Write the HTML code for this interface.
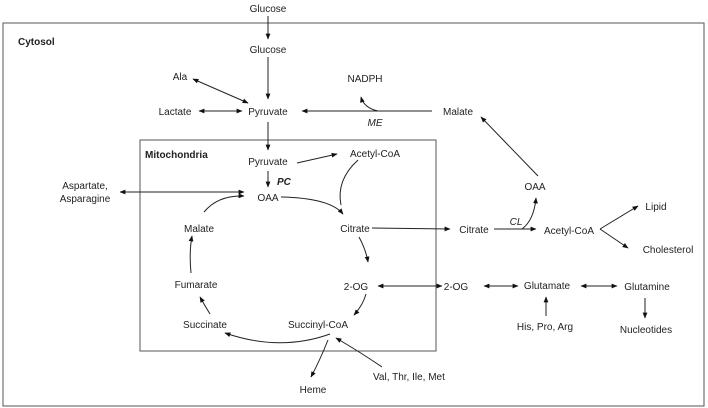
<!DOCTYPE html>
<html><head><meta charset="utf-8"><style>
html,body{margin:0;padding:0;background:#fff}
svg{display:block}
text{font-family:"Liberation Sans",Arial,sans-serif;font-size:10px;fill:#222;text-anchor:middle}
.b{font-weight:bold;text-anchor:start}
.i{font-style:italic}
</style></head><body>
<svg width="708" height="408" viewBox="0 0 708 408" xmlns="http://www.w3.org/2000/svg">
<defs>
<marker id="a" viewBox="0 0 10 10" refX="9" refY="5" markerWidth="6" markerHeight="6" orient="auto-start-reverse" markerUnits="userSpaceOnUse"><path d="M0,1 L10,5 L0,9 z" fill="#111"/></marker>
</defs>
<rect x="3" y="23" width="701" height="383" fill="none" stroke="#555" stroke-width="1"/>
<rect x="140" y="140" width="296" height="211" fill="none" stroke="#555" stroke-width="1"/>
<g stroke="#222" stroke-width="1" fill="none">
<line x1="268" y1="16" x2="268" y2="39" marker-end="url(#a)"/>
<line x1="268" y1="57" x2="268" y2="99" marker-end="url(#a)"/>
<line x1="193" y1="79" x2="248" y2="103" marker-start="url(#a)" marker-end="url(#a)"/>
<line x1="199" y1="111" x2="242" y2="111" marker-start="url(#a)" marker-end="url(#a)"/>
<line x1="432" y1="111" x2="302" y2="111" marker-end="url(#a)"/>
<path d="M378,111 Q364,108 361,97" marker-end="url(#a)"/>
<line x1="268" y1="122" x2="268" y2="150" marker-end="url(#a)"/>
<line x1="297" y1="163" x2="337" y2="154" marker-end="url(#a)"/>
<line x1="268" y1="171" x2="268" y2="187" marker-end="url(#a)"/>
<line x1="120" y1="192" x2="244" y2="192" marker-start="url(#a)" marker-end="url(#a)"/>
<path d="M281,197 Q330,198 343,214" marker-end="url(#a)"/>
<path d="M358,160 Q336,180 341,205"/>
<path d="M204,212 Q218,195 244,196" marker-end="url(#a)"/>
<path d="M191,273 Q189,252 192,236" marker-end="url(#a)"/>
<path d="M210,314 Q205,306 200,297" marker-end="url(#a)"/>
<path d="M359,237 Q366,250 368,262" marker-end="url(#a)"/>
<path d="M366,294 Q363,305 354,315" marker-end="url(#a)"/>
<path d="M330,334 Q280,352 225,333" marker-end="url(#a)"/>
<path d="M328,340 Q320,360 311,377" marker-end="url(#a)"/>
<path d="M382,367 Q360,352 336,338" marker-end="url(#a)"/>
<line x1="372" y1="228" x2="450" y2="229" marker-end="url(#a)"/>
<line x1="494" y1="229" x2="536" y2="229" marker-end="url(#a)"/>
<path d="M522,229 Q534,220 536,198" marker-end="url(#a)"/>
<line x1="538" y1="176" x2="481" y2="117" marker-end="url(#a)"/>
<line x1="600" y1="229" x2="638" y2="206" marker-end="url(#a)"/>
<line x1="600" y1="229" x2="628" y2="248" marker-end="url(#a)"/>
<line x1="378" y1="286" x2="442" y2="286" marker-start="url(#a)" marker-end="url(#a)"/>
<line x1="484" y1="286" x2="518" y2="286" marker-start="url(#a)" marker-end="url(#a)"/>
<line x1="581" y1="286" x2="617" y2="286" marker-start="url(#a)" marker-end="url(#a)"/>
<line x1="546" y1="316" x2="546" y2="297" marker-end="url(#a)"/>
<line x1="645" y1="298" x2="645" y2="318" marker-end="url(#a)"/>
</g>
<text x="268" y="12">Glucose</text>
<text class="b" x="18" y="45">Cytosol</text>
<text x="268" y="53">Glucose</text>
<text x="180" y="80">Ala</text>
<text x="175" y="115">Lactate</text>
<text x="268" y="115">Pyruvate</text>
<text x="365" y="82">NADPH</text>
<text x="458" y="115">Malate</text>
<text class="i" x="375" y="126">ME</text>
<text class="b" x="145" y="158">Mitochondria</text>
<text x="268" y="165">Pyruvate</text>
<text x="375" y="157">Acetyl-CoA</text>
<text class="b i" x="277" y="185">PC</text>
<text x="268" y="201">OAA</text>
<text x="85" y="189">Aspartate,</text>
<text x="85" y="202">Asparagine</text>
<text x="199" y="232">Malate</text>
<text x="355" y="232">Citrate</text>
<text x="474" y="233">Citrate</text>
<text class="i" x="516" y="225">CL</text>
<text x="569" y="234">Acetyl-CoA</text>
<text x="535" y="190">OAA</text>
<text x="656" y="210">Lipid</text>
<text x="668" y="253">Cholesterol</text>
<text x="196" y="288">Fumarate</text>
<text x="356" y="290">2-OG</text>
<text x="456" y="290">2-OG</text>
<text x="547" y="289">Glutamate</text>
<text x="647" y="290">Glutamine</text>
<text x="205" y="328">Succinate</text>
<text x="318" y="328">Succinyl-CoA</text>
<text x="545" y="330">His, Pro, Arg</text>
<text x="646" y="333">Nucleotides</text>
<text x="313" y="393">Heme</text>
<text x="373" y="380" style="text-anchor:start">Val, Thr, Ile, Met</text>
</svg>
</body></html>
